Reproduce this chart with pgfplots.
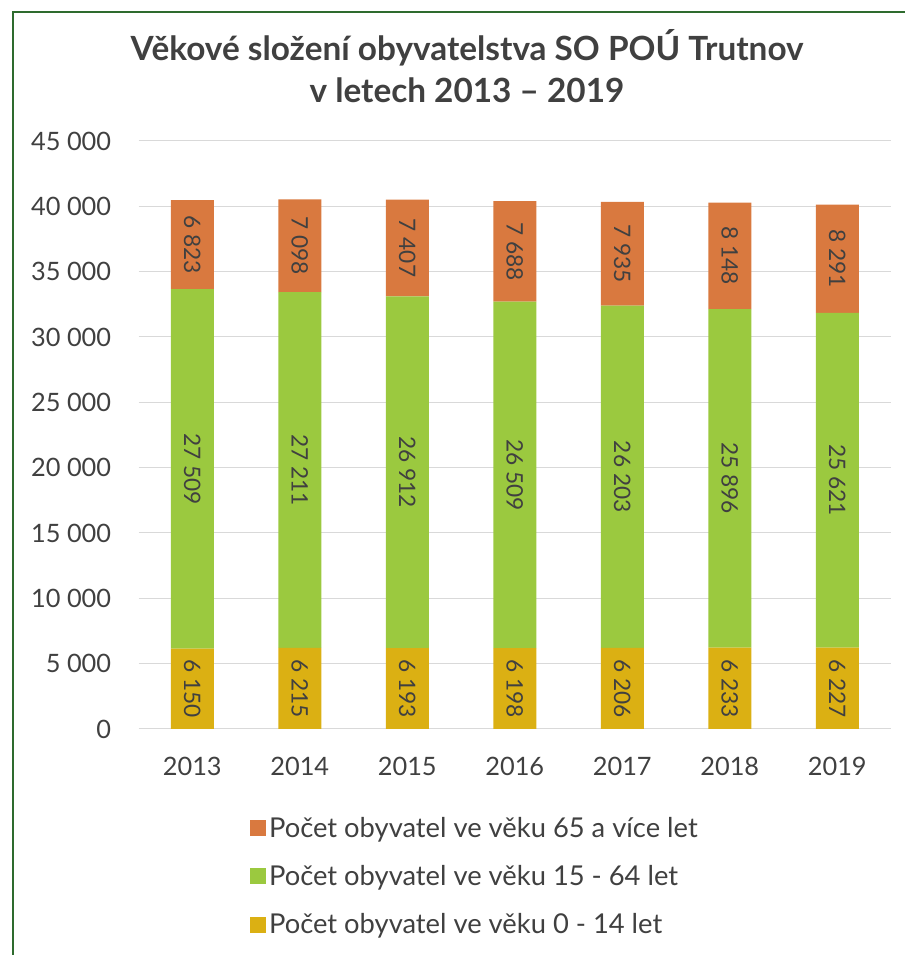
\documentclass[border=0pt]{standalone}
\usepackage{pgfplots}
\pgfplotsset{compat=1.18}
\usepackage{fontspec}
\setmainfont{Lato}
\definecolor{cOld}{HTML}{D9793F}
\definecolor{cMid}{HTML}{9BC93F}
\definecolor{cYoung}{HTML}{DBB013}
\definecolor{txt}{HTML}{404040}
\definecolor{gridc}{HTML}{D9D9D9}
\definecolor{framec}{HTML}{2E6B2E}
\begin{document}
\begin{tikzpicture}[x=0.75pt,y=0.75pt]
\useasboundingbox (0,0) rectangle (905,955);
\draw[framec, line width=1.5pt] (13,-5) -- (13,943) -- (910,943);
\node[font=\bfseries\fontsize{25}{32}\selectfont, text=txt, align=center] at (467,889) {Věkové složení obyvatelstva SO POÚ Trutnov\\v letech 2013 – 2019};
\begin{axis}[
  at={(103.875pt,169.5pt)}, anchor=south west,
  scale only axis, width=564.4pt, height=441pt,
  xmin=-0.5, xmax=6.5, ymin=0, ymax=45000,
  ybar stacked, bar width=32.25pt,
  xtick={0,1,2,3,4,5,6}, xticklabels={2013,2014,2015,2016,2017,2018,2019},
  ytick={0,5000,10000,15000,20000,25000,30000,35000,40000,45000},
  scaled y ticks=false,
  ymajorgrids, grid style={gridc, line width=0.75pt},
  axis line style={draw=none}, tick style={draw=none},
  tick label style={font=\fontsize{19}{23}\selectfont, text=txt},
  yticklabel style={xshift=-17pt},
  xticklabel style={yshift=-17.5pt},
  /pgf/number format/1000 sep={\ },
  /pgf/number format/assume math mode=true,
  visualization depends on=rawy \as \rawy,
  nodes near coords={\pgfmathprintnumber{\rawy}},
  every node near coord/.append style={rotate=-90, anchor=center, font=\fontsize{17}{20}\selectfont, text=txt},
  reverse legend,
  legend cell align=left,
  legend image code/.code={\fill[#1] (0pt,-6pt) rectangle (12pt,6pt);},
  legend style={at={(0.143,-0.14)}, anchor=north west, draw=none, fill=none, font=\fontsize{20.5}{24}\selectfont, text=txt, row sep=15.6pt},
]
\addplot[fill=cYoung, draw=none] coordinates {(0,6150) (1,6215) (2,6193) (3,6198) (4,6206) (5,6233) (6,6227)};
\addlegendentry{Počet obyvatel ve věku 0 - 14 let}
\addplot[fill=cMid, draw=none] coordinates {(0,27509) (1,27211) (2,26912) (3,26509) (4,26203) (5,25896) (6,25621)};
\addlegendentry{Počet obyvatel ve věku 15 - 64 let}
\addplot[fill=cOld, draw=none] coordinates {(0,6823) (1,7098) (2,7407) (3,7688) (4,7935) (5,8148) (6,8291)};
\addlegendentry{Počet obyvatel ve věku 65 a více let}
\end{axis}
\end{tikzpicture}
\end{document}
